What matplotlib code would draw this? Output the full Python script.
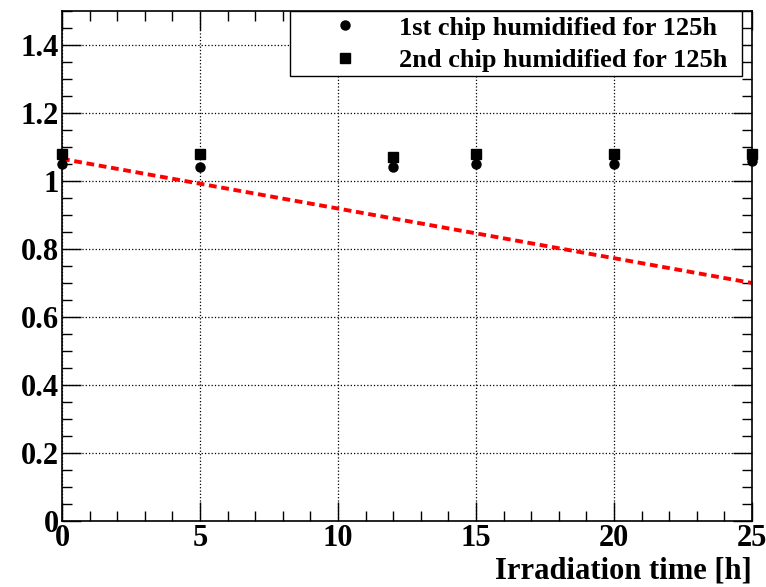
import matplotlib
matplotlib.use("Agg")
import matplotlib.pyplot as plt
from matplotlib.patches import Rectangle
from matplotlib.ticker import MultipleLocator

plt.rcParams["font.family"] = ["Liberation Serif", "DejaVu Serif"]
plt.rcParams["font.weight"] = "bold"

# data
time_h = [0, 5, 12, 15, 20, 25]
chip1 = [1.05, 1.04, 1.04, 1.05, 1.05, 1.06]
chip2 = [1.08, 1.08, 1.07, 1.08, 1.08, 1.08]
fit_x = [0, 25]
fit_y = [1.065, 0.70]

fig = plt.figure(figsize=(7.66, 5.87), dpi=100)
ax = fig.add_axes([62 / 766, 1 - 521 / 587, (752 - 62) / 766, (521 - 11) / 587])

ax.plot(fit_x, fit_y, color="red", ls=(0, (2, 1.2)), lw=2.8, zorder=2)
ax.plot(time_h, chip1, "o", color="black", ms=6.5, ls="none", clip_on=False,
        label="1st chip humidified for 125h", zorder=3)
ax.plot(time_h, chip2, "s", color="black", ms=7, ls="none", clip_on=False,
        label="2nd chip humidified for 125h", zorder=3)

ax.set_xlim(0, 25)
ax.set_ylim(0, 1.5)
ax.xaxis.set_major_locator(MultipleLocator(5))
ax.xaxis.set_minor_locator(MultipleLocator(1))
ax.yaxis.set_major_locator(MultipleLocator(0.2))
ax.yaxis.set_minor_locator(MultipleLocator(0.05))
ax.yaxis.set_major_formatter(plt.FuncFormatter(lambda v, p: "0" if v == 0 else "%g" % round(v, 1)))
ax.tick_params(which="both", direction="in", top=True, right=True, width=1)
ax.tick_params(which="major", length=14, labelsize=22, pad=2)
ax.tick_params(which="minor", length=7)
ax.grid(True, which="major", ls=":", color="black", lw=0.9)
for s in ax.spines.values():
    s.set_linewidth(1.2)

ax.set_xlabel("Irradiation time [h]", fontsize=22, fontweight="bold", loc="right", labelpad=3)

# legend box drawn separately so the padding can follow the ROOT layout
ax.add_patch(Rectangle((0.3304, 0.8725), 0.655, 0.1275, transform=ax.transAxes,
                       facecolor="white", edgecolor="black", lw=1.0, zorder=4))
leg = ax.legend(loc="upper left", bbox_to_anchor=(0.387, 0.99), fontsize=19,
                frameon=False, borderpad=0, borderaxespad=0,
                handlelength=1.2, handletextpad=1.45, labelspacing=0.33)
leg.set_zorder(5)

fig.savefig("out.png", dpi=100)
